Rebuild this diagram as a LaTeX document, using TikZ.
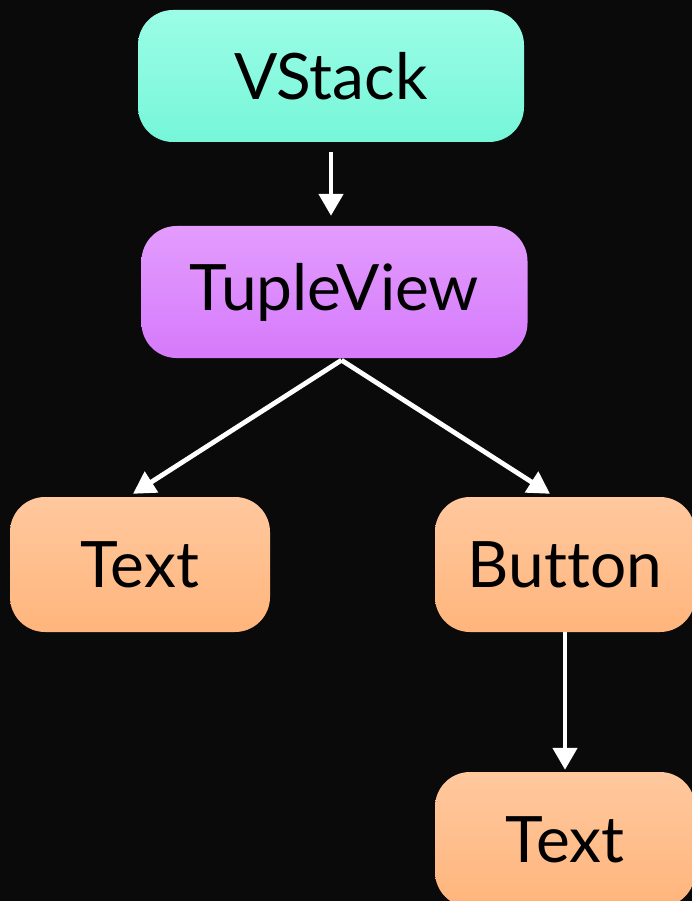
\documentclass[tikz,border=0pt]{standalone}
\usepackage{fontspec}
\setmainfont{Lato}[Ligatures=NoCommon]
\usetikzlibrary{arrows.meta,calc}

\definecolor{bg}{HTML}{0A0A0A}
\definecolor{mintTop}{HTML}{9CFDE6}
\definecolor{mintBot}{HTML}{76F6D9}
\definecolor{violetTop}{HTML}{E39CFD}
\definecolor{violetBot}{HTML}{D57AFB}
\definecolor{peachTop}{HTML}{FFC89E}
\definecolor{peachBot}{HTML}{FFB57C}

\tikzset{
  viewbox/.style={rounded corners=35pt, inner sep=0pt, text=black,
    font=\fontsize{64}{70}\selectfont},
  wide/.style={viewbox, minimum width=386pt, minimum height=132pt},
  narrow/.style={viewbox, minimum width=260pt, minimum height=135pt},
  mint/.style={top color=mintTop, bottom color=mintBot},
  violet/.style={top color=violetTop, bottom color=violetBot},
  peach/.style={top color=peachTop, bottom color=peachBot},
  link/.style={draw=white, line width=4.8pt,
    -{Triangle[width=24pt,length=22pt]}}
}

\begin{document}
\begin{tikzpicture}[x=1pt,y=-1pt]
  % canvas
  \fill[bg] (0,0) rectangle (692,901);
  \useasboundingbox (0,0) rectangle (692,901);

  % view hierarchy
  \node[wide, mint]     (vs) at (331,76)      {VStack};
  \node[wide, violet]   (tv) at (334.5,292)   {TupleView};
  \node[narrow, peach]  (t1) at (140,564.5)   {Text};
  \node[narrow, peach]  (bt) at (565,564.5)   {Button};
  \node[narrow, peach]  (t2) at (565,839.5)   {Text};

  % connector anchors
  \coordinate (fork) at ($(tv.south)+(7,2)$);
  \coordinate (t1in) at ($(t1.north)+(-7,-3)$);
  \coordinate (btin) at ($(bt.north)+(-15,-3)$);

  % connectors
  \draw[link, shorten <=10pt, shorten >=10pt] (vs.south) -- (vs.south |- tv.north);
  \draw[link] (fork) -- (t1in);
  \draw[link] (fork) -- (btin);
  \draw[link, shorten >=2pt] (bt.south) -- (t2.north);
\end{tikzpicture}
\end{document}
